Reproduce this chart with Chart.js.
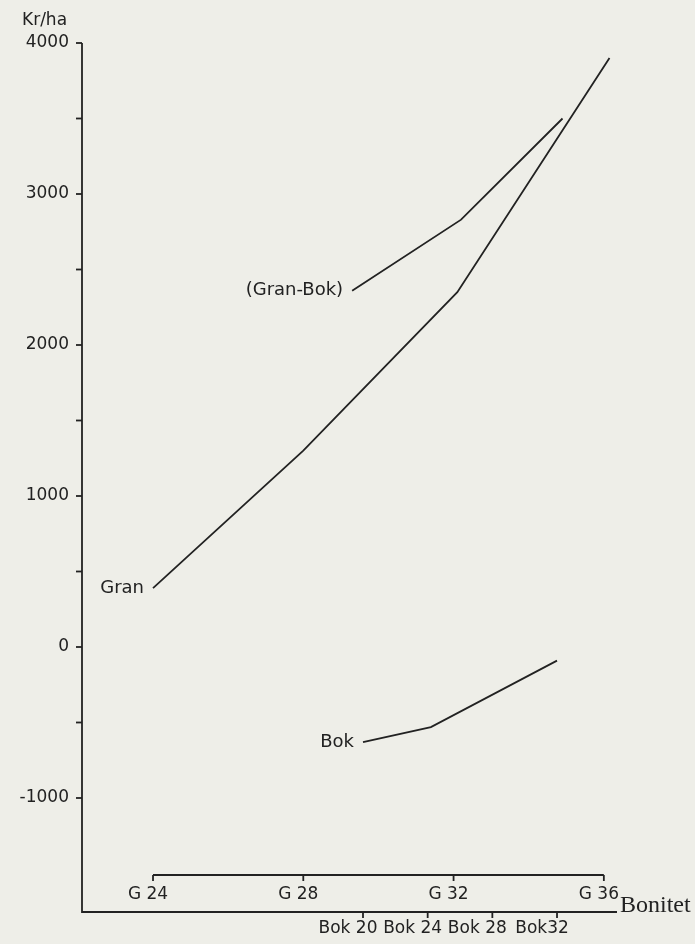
<!DOCTYPE html>
<html>
<head>
<meta charset="utf-8">
<script src="https://cdn.jsdelivr.net/npm/chart.js@4/dist/chart.umd.min.js"></script>
<style>
  html, body { margin: 0; padding: 0; background: #eeeee8; }
  canvas { display: block; }
</style>
</head>
<body>
<canvas id="myChart" width="695" height="944"></canvas>
<script>
// ----- datos -----
const granX = [24, 28, 32.1, 36.15];       // bonitet G
const granKr = [390, 1300, 2350, 3900];

const granBokX = [29.3, 32.2, 34.9];       // bonitet G
const granBokKr = [2360, 2830, 3500];

const bokX = [20, 24.2, 32];               // bonitet Bok
const bokKr = [-630, -530, -90];

const yTicks = [-1000, 0, 1000, 2000, 3000, 4000];
const yMinorTicks = [-500, 500, 1500, 2500, 3500];
const gTicks = [24, 28, 32, 36];
const gLabels = ['G 24', 'G 28', 'G 32', 'G 36'];
const bokTicks = [20, 24, 28, 32];
const bokLabels = ['Bok 20', 'Bok 24', 'Bok 28', 'Bok32'];

const curveLabels = ['Gran', '(Gran-Bok)', 'Bok'];

const ink = '#222222';
const plotFont = '17px "DejaVu Sans"';

function toPoints(xs, ys) {
  return xs.map((x, i) => ({ x: x, y: ys[i] }));
}

// ejes dibujados a mano con las escalas de Chart.js
const axesPlugin = {
  id: 'plotterAxes',
  beforeDraw(chart) {
    const ctx = chart.ctx;
    ctx.save();
    ctx.fillStyle = '#eeeee8';
    ctx.fillRect(0, 0, chart.width, chart.height);
    ctx.restore();
  },
  afterDraw(chart) {
    const ctx = chart.ctx;
    const area = chart.chartArea;
    const y = chart.scales.y;
    const xG = chart.scales.x;
    const xB = chart.scales.xBok;

    ctx.save();
    ctx.strokeStyle = ink;
    ctx.fillStyle = ink;
    ctx.lineWidth = 1.8;

    // eje Y
    ctx.beginPath();
    ctx.moveTo(area.left, y.getPixelForValue(4000));
    ctx.lineTo(area.left, area.bottom);
    ctx.lineTo(area.right, area.bottom);
    ctx.stroke();

    ctx.font = plotFont;
    ctx.textAlign = 'right';
    ctx.textBaseline = 'middle';
    yTicks.forEach(v => {
      const py = y.getPixelForValue(v);
      ctx.beginPath();
      ctx.moveTo(area.left - 6, py);
      ctx.lineTo(area.left, py);
      ctx.stroke();
      ctx.fillText(String(v), area.left - 13, py);
    });
    yMinorTicks.forEach(v => {
      const py = y.getPixelForValue(v);
      ctx.beginPath();
      ctx.moveTo(area.left - 6, py);
      ctx.lineTo(area.left, py);
      ctx.stroke();
    });

    ctx.textAlign = 'left';
    ctx.fillText('Kr/ha', 22, 21);

    // eje de bonitet gran
    const gy = area.bottom - 37;
    ctx.beginPath();
    ctx.moveTo(xG.getPixelForValue(gTicks[0]), gy);
    ctx.lineTo(xG.getPixelForValue(gTicks[gTicks.length - 1]), gy);
    ctx.stroke();
    ctx.textAlign = 'center';
    gTicks.forEach((v, i) => {
      const px = xG.getPixelForValue(v);
      ctx.beginPath();
      ctx.moveTo(px, gy);
      ctx.lineTo(px, gy + 6);
      ctx.stroke();
      ctx.fillText(gLabels[i], px - 5, gy + 20);
    });

    // eje de bonitet bok
    bokTicks.forEach((v, i) => {
      const px = xB.getPixelForValue(v);
      ctx.beginPath();
      ctx.moveTo(px, area.bottom);
      ctx.lineTo(px, area.bottom + 6);
      ctx.stroke();
      ctx.fillText(bokLabels[i], px - 15, area.bottom + 17);
    });

    ctx.textAlign = 'left';
    ctx.font = '24px "Liberation Serif"';
    ctx.fillText('Bonitet', area.right + 3, area.bottom - 6);

    // nombres de las curvas
    ctx.font = '18px "DejaVu Sans"';
    ctx.textAlign = 'right';
    chart.data.datasets.forEach((ds, i) => {
      const meta = chart.getDatasetMeta(i);
      const p = meta.data[0];
      ctx.fillText(curveLabels[i], p.x - 9, p.y);
    });

    ctx.restore();
  }
};

const ctxChart = document.getElementById('myChart');

const myChart = new Chart(ctxChart, {
  type: 'line',
  data: {
    datasets: [{
      label: 'Gran',
      data: toPoints(granX, granKr),
      xAxisID: 'x'
    }, {
      label: 'Gran-Bok',
      data: toPoints(granBokX, granBokKr),
      xAxisID: 'x'
    }, {
      label: 'Bok',
      data: toPoints(bokX, bokKr),
      xAxisID: 'xBok'
    }]
  },
  options: {
    responsive: false,
    animation: false,
    layout: {
      padding: { left: 82, right: 78, top: 43, bottom: 32 }
    },
    elements: {
      line: { borderColor: ink, borderWidth: 1.8, tension: 0 },
      point: { radius: 0 }
    },
    plugins: {
      legend: { display: false },
      tooltip: { enabled: false }
    },
    scales: {
      x: { type: 'linear', display: false, min: 22.11, max: 36.35 },
      xBok: { type: 'linear', display: false, min: 2.62, max: 35.71 },
      y: { type: 'linear', display: false, min: -1755, max: 4000 }
    }
  },
  plugins: [axesPlugin]
});
</script>
</body>
</html>
